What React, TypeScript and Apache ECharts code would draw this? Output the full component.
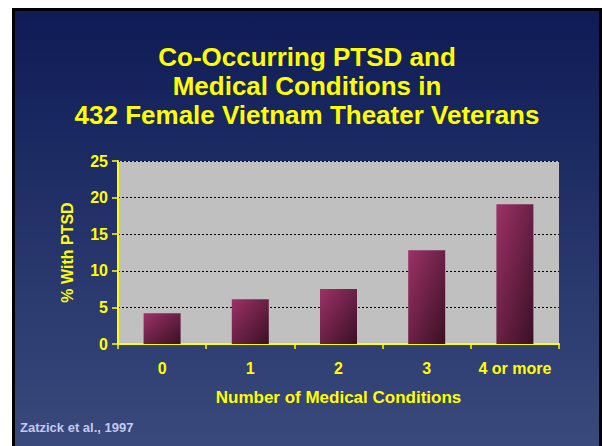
import React, { useEffect, useRef } from "react";
import * as echarts from "echarts";

const categories = ["0", "1", "2", "3", "4 or more"];
const ptsdPercent = [4.2, 6.1, 7.5, 12.8, 19.1];
const yTicks = { min: 0, max: 25, interval: 5 };
const titleLines = [
  "Co-Occurring PTSD and",
  "Medical Conditions in",
  "432 Female Vietnam Theater Veterans",
];
const xAxisName = "Number of Medical Conditions";
const yAxisName = "% With PTSD";
const footnote = "Zatzick et al., 1997";

const FONT = "'Liberation Sans', Arial, Helvetica, sans-serif";
const YELLOW = "#ffff00";

export default function App() {
  const ref = useRef<HTMLDivElement>(null);
  useEffect(() => {
    document.body.style.margin = "0";
    const chart = echarts.init(ref.current!, null, { renderer: "svg" });
    chart.setOption({
      animation: false,
      backgroundColor: "#ffffff",
      graphic: [
        {
          type: "rect",
          z: -10,
          silent: true,
          shape: { x: 13.5, y: 9.5, width: 587, height: 450 },
          style: {
            fill: new echarts.graphic.LinearGradient(0, 0, 0, 1, [
              { offset: 0, color: "#0e1b56" },
              { offset: 1, color: "#3b4b7d" },
            ]),
            stroke: "#000000",
            lineWidth: 3,
          },
        },
        {
          type: "text",
          x: 307,
          y: 42,
          style: {
            text: titleLines.join("\n"),
            fill: YELLOW,
            font: `bold 26px ${FONT}`,
            lineHeight: 29,
            align: "center",
            verticalAlign: "top",
          },
        },
        {
          type: "text",
          x: 20,
          y: 427,
          style: {
            text: footnote,
            fill: "#c3c9ef",
            font: `bold 13px ${FONT}`,
            align: "left",
            verticalAlign: "middle",
          },
        },
      ],
      grid: {
        left: 118,
        right: 43,
        top: 161,
        bottom: 102,
        show: true,
        backgroundColor: "#c0c0c0",
        borderWidth: 0,
      },
      xAxis: {
        type: "category",
        data: categories,
        name: xAxisName,
        nameLocation: "middle",
        nameGap: 45,
        nameTextStyle: { color: YELLOW, fontWeight: "bold", fontSize: 17, fontFamily: FONT },
        axisLine: { lineStyle: { color: YELLOW, width: 2 } },
        axisTick: { show: true, interval: 0, alignWithLabel: false, length: 5, lineStyle: { color: YELLOW, width: 1.5 } },
        axisLabel: { interval: 0, color: YELLOW, fontWeight: "bold", fontSize: 16, fontFamily: FONT, margin: 16 },
        splitLine: { show: false },
      },
      yAxis: {
        type: "value",
        min: yTicks.min,
        max: yTicks.max,
        interval: yTicks.interval,
        name: yAxisName,
        nameLocation: "middle",
        nameGap: 43,
        nameRotate: 90,
        nameTextStyle: { color: YELLOW, fontWeight: "bold", fontSize: 16, fontFamily: FONT },
        axisLine: { show: true, lineStyle: { color: YELLOW, width: 2 } },
        axisTick: { show: true, length: 6, lineStyle: { color: YELLOW, width: 1.5 } },
        axisLabel: { color: YELLOW, fontWeight: "bold", fontSize: 16, fontFamily: FONT, margin: 10 },
        splitLine: { show: true, lineStyle: { color: "#000000", type: [2, 2], width: 1.2 } },
      },
      series: [
        {
          type: "bar",
          data: ptsdPercent,
          barWidth: 37,
          itemStyle: {
            color: new echarts.graphic.LinearGradient(0, 0, 1, 1, [
              { offset: 0, color: "#9c3266" },
              { offset: 1, color: "#3a0f25" },
            ]),
          },
        },
      ],
    });
    return () => chart.dispose();
  }, []);
  return <div ref={ref} style={{ width: 602, height: 446 }} />;
}
